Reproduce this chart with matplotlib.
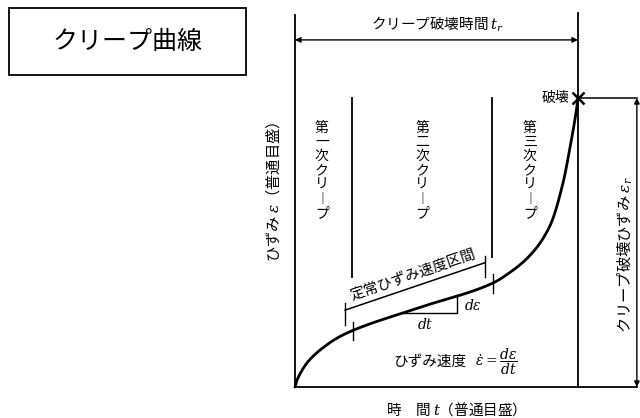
import numpy as np
import matplotlib
matplotlib.use("Agg")
import matplotlib.pyplot as plt
from matplotlib.patches import Rectangle

plt.rcParams['font.family'] = ['Noto Sans CJK JP', 'DejaVu Sans']
plt.rcParams['mathtext.fontset'] = 'dejavuserif'

# ---- data (time t, strain e; rupture at t=100, e=100) ----
curve_t = [0, 0.7, 1.8, 4.2, 7.1, 9.9, 15.0, 20.5, 45.0, 70.0, 75.0, 83.0, 90.1, 94.7, 97.2, 99.6, 100]
curve_e = [0, 2.3, 4.6, 8.3, 11.3, 13.6, 17.0, 19.6, 27.8, 36.0, 39.0, 45.5, 55.8, 70.6, 83.0, 96.9, 100]
steady_t = [20.5, 70.0]          # steady creep interval
stage_bounds = [20.1, 69.6]      # dividing lines between stages
stage_tops = [100, 100]
stage_bottoms = [38, 45]
stage_labels = ["第\n一\n次\nク\nリ\n︱\nプ", "第\n二\n次\nク\nリ\n︱\nプ", "第\n三\n次\nク\nリ\n︱\nプ"]
stage_label_t = [9.5, 44.9, 83.0]
tri_t = [38.0, 57.2]
rupture_t = 100
rupture_e = 100


def pchip_path(xs, ys, n=30):
    """Monotone cubic (Fritsch-Carlson) path through the read points (rendering only)."""
    x = np.asarray(xs, float)
    y = np.asarray(ys, float)
    h = np.diff(x)
    d = np.diff(y) / h
    m = np.zeros_like(x)
    for k in range(1, len(x) - 1):
        if d[k - 1] * d[k] > 0:
            w1 = 2 * h[k] + h[k - 1]
            w2 = h[k] + 2 * h[k - 1]
            m[k] = (w1 + w2) / (w1 / d[k - 1] + w2 / d[k])
    m[0] = d[0] * 1.5 - m[1] * 0.5
    m[-1] = d[-1] * 1.5 - m[-2] * 0.5
    ox, oy = [], []
    for k in range(len(x) - 1):
        s = np.linspace(0, 1, n, endpoint=False)
        h00 = 2 * s**3 - 3 * s**2 + 1
        h10 = s**3 - 2 * s**2 + s
        h01 = -2 * s**3 + 3 * s**2
        h11 = s**3 - s**2
        ox.append(x[k] + s * h[k])
        oy.append(h00 * y[k] + h10 * h[k] * m[k] + h01 * y[k + 1] + h11 * h[k] * m[k + 1])
    ox.append([x[-1]])
    oy.append([y[-1]])
    return np.concatenate(ox), np.concatenate(oy)


fig = plt.figure(figsize=(6.4, 4.18), dpi=100)

# title box
fig.patches.append(Rectangle((9/640, 1-75/418), 237/640, 67/418, transform=fig.transFigure,
                             fill=False, lw=1.3, ec='black'))
fig.text(128/640, 1-42/418, "クリープ曲線", ha='center', va='center', fontsize=18)

ax = fig.add_axes([295/640, 31/418, 283/640, 289/418])
ax.set_xlim(0, 100)
ax.set_ylim(0, 100)
ax.axis('off')

kw = dict(color='black', clip_on=False)

# axes frame lines
ax.plot([0, 0], [0, 128.7], lw=1.3, **kw)
ax.plot([0, 120.8], [0, 0], lw=1.3, **kw)
ax.plot([rupture_t, rupture_t], [0, 129.4], lw=1.3, **kw)
ax.plot([rupture_t, 120.8], [rupture_e, rupture_e], lw=1.1, **kw)

# dimension arrows
ax.annotate('', xy=(0, 120.1), xytext=(rupture_t, 120.1), annotation_clip=False,
            arrowprops=dict(arrowstyle='<|-|>', lw=1.0, color='black', shrinkA=0, shrinkB=0,
                            mutation_scale=8))
ax.annotate('', xy=(120.8, 0), xytext=(120.8, rupture_e), annotation_clip=False,
            arrowprops=dict(arrowstyle='<|-|>', lw=1.0, color='black', shrinkA=0, shrinkB=0,
                            mutation_scale=8))
ax.text(50.5, 122.0, r"クリープ破壊時間 $t_r$", ha='center', va='bottom', fontsize=10.5)
ax.text(116.6, 45.7, r"クリープ破壊ひずみ $\varepsilon_r$", ha='center', va='center',
        rotation=90, fontsize=11)
ax.text(-7.8, 67.5, r"ひずみ $\varepsilon$（普通目盛）", ha='center', va='center',
        rotation=90, fontsize=11)
ax.text(55.5, -7.6, r"時　間 $t$（普通目盛）", ha='center', va='center', fontsize=10.5)

# stage dividers and labels
for tb, top, bot in zip(stage_bounds, stage_tops, stage_bottoms):
    ax.plot([tb, tb], [bot, top], lw=1.3, **kw)
for lab, tl in zip(stage_labels, stage_label_t):
    ax.text(tl, 75, lab, ha='center', va='center', fontsize=10, linespacing=1.02)

# creep curve
sx, sy = pchip_path(curve_t, curve_e)
ax.plot(sx, sy, lw=2.0, solid_capstyle='round', solid_joinstyle='round', **kw)
ax.plot([rupture_t], [rupture_e], marker='x', ms=9, mew=1.8, **kw)
ax.text(97.0, 100, "破壊", ha='right', va='center', fontsize=10)

# steady interval ticks on curve
for st in steady_t:
    ev = np.interp(st, curve_t, curve_e)
    ax.plot([st, st], [ev - 3.5, ev + 3.0], lw=1.0, **kw)

# dimension line of steady interval (offset above)
off_e = 7.0
d_t = [steady_t[0] - 2.8, steady_t[1] - 2.9]
d_e = [np.interp(steady_t[0], curve_t, curve_e) + off_e, np.interp(steady_t[1], curve_t, curve_e) + off_e]
ax.plot(d_t, d_e, lw=1.1, **kw)
for tt, ee in zip(d_t, d_e):
    ax.plot([tt, tt], [ee - 5.0, ee + 2.5], lw=1.0, **kw)
ang = np.degrees(np.arctan2((d_e[1]-d_e[0]) * 289/100, (d_t[1]-d_t[0]) * 283/100))
ax.text(np.mean(d_t) - 0.5, np.mean(d_e) + 4.0, "定常ひずみ速度区間", ha='center', va='center',
        rotation=ang, rotation_mode='anchor', fontsize=10.5)

# slope triangle
e0 = np.interp(tri_t[0], curve_t, curve_e)
e1 = np.interp(tri_t[1], curve_t, curve_e)
ax.plot([tri_t[0], tri_t[1], tri_t[1]], [e0, e0, e1], lw=1.0, **kw)
ax.text(tri_t[1] + 2.5, (e0 + e1) / 2 - 0.5, r"$d\varepsilon$", ha='left', va='center', fontsize=10)
ax.text((tri_t[0] + tri_t[1]) / 2 - 1.5, e0 - 4.0, r"$dt$", ha='center', va='center', fontsize=10)

ax.text(34.6, 8.7, "ひずみ速度", ha='left', va='center', fontsize=10.5)
ax.text(63.5, 8.7, r"$\dot{\varepsilon}=\dfrac{d\varepsilon}{dt}$", ha='left', va='center', fontsize=10)

fig.savefig("out.png", dpi=100)
